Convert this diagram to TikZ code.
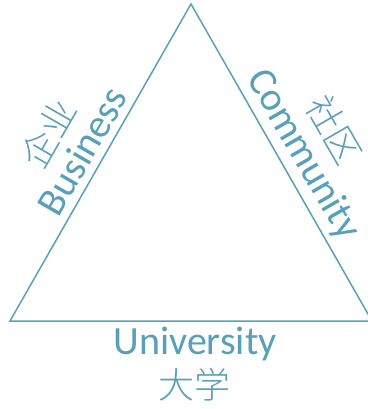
\documentclass[tikz,border=0pt]{standalone}
\usepackage{fontspec}
\setmainfont{Carlito}
\newfontfamily\cjk{Noto Sans CJK SC Light}[BoldFont={Noto Sans CJK SC}]
\definecolor{teal1}{RGB}{88,160,185}
\begin{document}
\begin{tikzpicture}[x=1pt,y=-1pt,
  edge/.style={draw=teal1,line width=1.5pt,line join=miter},
  lbl/.style={text=teal1,font=\fontsize{40}{42}\selectfont,inner sep=0pt},
  zh/.style={text=teal1,font=\cjk\fontsize{36}{38}\selectfont,inner sep=0pt}]
\useasboundingbox (0,0) rectangle (367,409);
\coordinate (A) at (191,4);
\coordinate (B) at (10,321);
\coordinate (C) at (372,321);
\draw[edge] (A) -- (B) -- (C) -- cycle;
\node[lbl,rotate=60] (bus) at (82,151) {Business};
\node[zh,rotate=60] (qy) at (48,133) {企业};
\node[lbl,rotate=-60] (com) at (303,155) {Community};
\node[zh,rotate=-60] (sq) at (334,130) {社区};
\node[lbl] (uni) at (195,344) {University};
\node[zh] (dx) at (194,385) {大学};
\end{tikzpicture}
\end{document}
